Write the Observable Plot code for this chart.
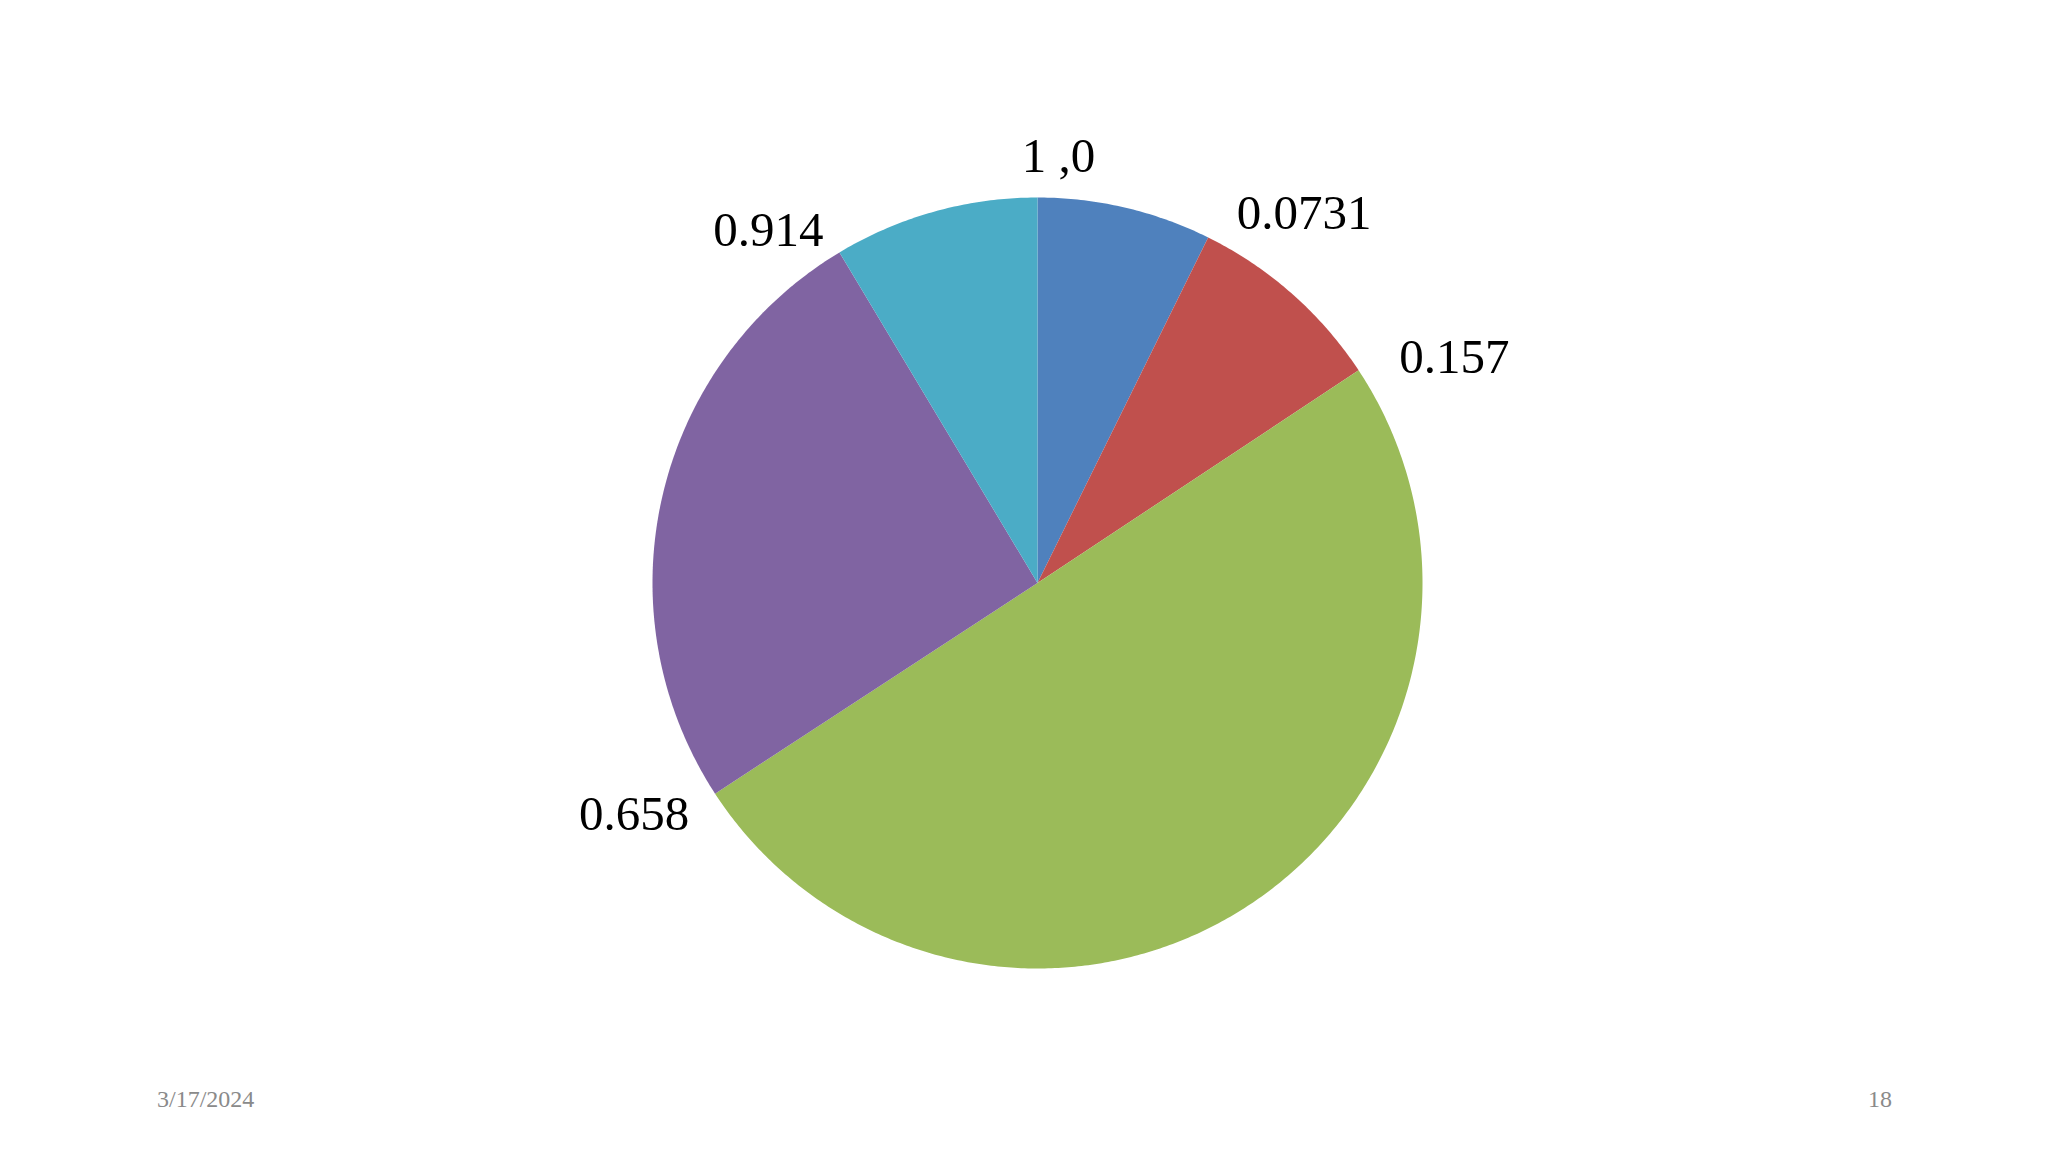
<!DOCTYPE html>
<html><head><meta charset="utf-8">
<script src="https://cdn.jsdelivr.net/npm/d3@7"></script>
<script src="https://cdn.jsdelivr.net/npm/@observablehq/plot@0.6"></script>
<style>
html,body{margin:0;padding:0;background:#fff;overflow:hidden;}
#wrap{position:relative;width:2048px;height:1152px;}
.foot{position:absolute;font-family:"Liberation Serif","Times New Roman",serif;font-size:24px;color:#8a8a8a;line-height:1;white-space:nowrap;}
</style></head><body><div id="wrap"></div>
<script>
// Data: cumulative boundaries of the pie slices
const boundaries = [0, 0.0731, 0.157, 0.658, 0.914, 1];
const sliceNames = ["s1", "s2", "s3", "s4", "s5"];
const sliceColors = ["#4F81BD", "#C0504D", "#9BBB59", "#8064A2", "#4BACC6"];
const labelValues = [0, 0.0731, 0.157, 0.658, 0.914];
const labelTexts = ["1 ,0", "0.0731", "0.157", "0.658", "0.914"];
const footerDate = "3/17/2024";
const footerPage = "18";

// Build slice polygons (geometry in unit-circle coordinates)
const slicePts = [];
sliceNames.forEach((name, i) => {
  const a = boundaries[i], b = boundaries[i + 1];
  slicePts.push({name, x: 0, y: 0});
  const n = Math.max(2, Math.ceil((b - a) * 720));
  for (let k = 0; k <= n; k++) {
    const t = 2 * Math.PI * (a + (b - a) * k / n);
    slicePts.push({name, x: Math.sin(t), y: Math.cos(t)});
  }
  slicePts.push({name, x: 0, y: 0});
});

const R = 1.08;
const labels = labelValues.map((v, i) => {
  const t = 2 * Math.PI * v;
  const s = Math.sin(t);
  return {text: labelTexts[i], x: R * s, y: R * Math.cos(t),
    side: Math.abs(s) < 0.05 ? "middle" : (s > 0 ? "start" : "end")};
});

const textOpts = (side, dx, dy) => ({
  filter: d => d.side === side, x: "x", y: "y", text: "text",
  textAnchor: side, lineAnchor: "middle", dx, dy,
  fontFamily: "'Liberation Serif','Times New Roman',serif",
  fontSize: 49, fill: "#000"
});

const chart = Plot.plot({
  width: 2048, height: 1152,
  marginTop: 0, marginBottom: 0, marginLeft: 0, marginRight: 0,
  x: {type: "linear", domain: [-1, 1], range: [652, 1422], axis: null},
  y: {type: "linear", domain: [-1, 1], range: [968, 197], axis: null},
  color: {domain: sliceNames, range: sliceColors, legend: false},
  style: {background: "#fff", overflow: "visible"},
  marks: [
    Plot.line(slicePts, {x: "x", y: "y", z: "name", fill: "name", stroke: "none", curve: "linear-closed"}),
    Plot.text(labels, textOpts("middle", 21, -10)),
    Plot.text(labels, textOpts("start", 15, 4)),
    Plot.text(labels, textOpts("end", 0, 4))
  ]
});
const wrap = document.getElementById("wrap");
wrap.appendChild(chart);

const f1 = document.createElement("div");
f1.className = "foot"; f1.textContent = footerDate;
f1.style.left = "157px"; f1.style.top = "1087px";
wrap.appendChild(f1);
const f2 = document.createElement("div");
f2.className = "foot"; f2.textContent = footerPage;
f2.style.left = "1868px"; f2.style.top = "1087px";
wrap.appendChild(f2);
</script></body></html>
